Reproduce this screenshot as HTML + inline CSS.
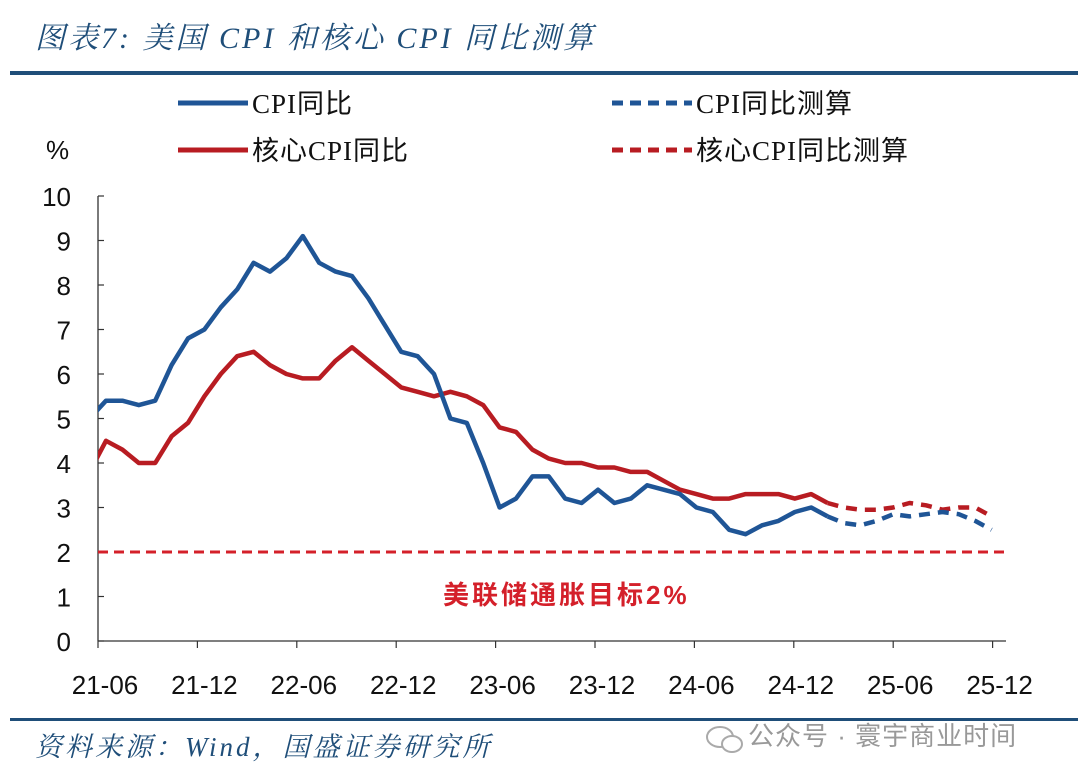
<!DOCTYPE html>
<html><head><meta charset="utf-8"><style>
html,body{margin:0;padding:0;background:#fff;}
body{width:1080px;height:777px;position:relative;overflow:hidden;font-family:"Liberation Sans","Noto Sans CJK SC",sans-serif;}
svg{position:absolute;left:0;top:0;}
</style></head><body>
<svg id="chart" width="1080" height="777">
<text x="35" y="48" font-size="30" font-style="italic" fill="#1f4e79" letter-spacing="3" font-family="Liberation Serif, Noto Serif CJK SC, serif">图表7:  美国 CPI 和核心 CPI 同比测算</text>
<rect x="10" y="71" width="1068" height="4" fill="#1f4e79"/>
<g font-size="27" fill="#111" font-family="Liberation Serif, Noto Sans CJK SC, serif">
<g><line x1="178" y1="103" x2="248" y2="103" stroke="#1f5596" stroke-width="5"/><text x="252" y="113" letter-spacing="1">CPI同比</text></g>
<g><line x1="178" y1="150" x2="248" y2="150" stroke="#b81c22" stroke-width="5"/><text x="252" y="160" letter-spacing="1">核心CPI同比</text></g>
<g><line x1="612" y1="103" x2="692" y2="103" stroke="#1f5596" stroke-width="5" stroke-dasharray="11,7"/><text x="696" y="113" letter-spacing="1">CPI同比测算</text></g>
<g><line x1="612" y1="150" x2="692" y2="150" stroke="#b81c22" stroke-width="5" stroke-dasharray="11,7"/><text x="696" y="160" letter-spacing="1">核心CPI同比测算</text></g>
</g>
<text x="46" y="159" font-size="26" fill="#111">%</text>
<g id="axes"></g>
<g id="marks"></g>
<text x="443" y="604" font-size="26" font-weight="bold" letter-spacing="3" fill="#d4202a">美联储通胀目标2%</text>
<rect x="10" y="718" width="1068" height="3" fill="#1f4e79"/>
<text x="35" y="756" font-size="27" font-style="italic" letter-spacing="3" fill="#1f4e79" font-family="Liberation Serif, Noto Serif CJK SC, serif">资料来源：Wind，国盛证券研究所</text>
<g>
<ellipse cx="720" cy="737" rx="13" ry="10" fill="none" stroke="#aaa" stroke-width="2"/>
<ellipse cx="732" cy="744" rx="10" ry="8" fill="#fff" stroke="#aaa" stroke-width="2"/>
<text x="748" y="745" font-size="26" fill="#999" letter-spacing="1">公众号 · 寰宇商业时间</text>
</g>
</svg>
<script>
// Months from 2021-05 (index -1) onward; index 0 = 2021-06
const cpiActual=[5.0,5.4,5.4,5.3,5.4,6.2,6.8,7.0,7.5,7.9,8.5,8.3,8.6,9.1,8.5,8.3,8.2,7.7,7.1,6.5,6.4,6.0,5.0,4.9,4.0,3.0,3.2,3.7,3.7,3.2,3.1,3.4,3.1,3.2,3.5,3.4,3.3,3.0,2.9,2.5,2.4,2.6,2.7,2.9,3.0,2.8];
const coreActual=[3.8,4.5,4.3,4.0,4.0,4.6,4.9,5.5,6.0,6.4,6.5,6.2,6.0,5.9,5.9,6.3,6.6,6.3,6.0,5.7,5.6,5.5,5.6,5.5,5.3,4.8,4.7,4.3,4.1,4.0,4.0,3.9,3.9,3.8,3.8,3.6,3.4,3.3,3.2,3.2,3.3,3.3,3.3,3.2,3.3,3.1];
const cpiForecast=[2.65,2.6,2.7,2.85,2.8,2.85,2.9,2.85,2.7,2.5];
const coreForecast=[3.0,2.95,2.95,3.0,3.1,3.05,2.95,3.0,3.0,2.8];
const yTicks=[0,1,2,3,4,5,6,7,8,9,10];
const xTickLabels=["21-06","21-12","22-06","22-12","23-06","23-12","24-06","24-12","25-06","25-12"];
const fedTarget=2;

const NS="http://www.w3.org/2000/svg";
const X0=98, XEND=1006, YB=641, PY=44.5, FIRST=106, MW=16.4;
const xs=i=>FIRST+MW*i; // i month index from 2021-06
const ys=v=>YB-v*PY;
function mk(tag,attrs,parent){const e=document.createElementNS(NS,tag);for(const k in attrs)e.setAttribute(k,attrs[k]);parent.appendChild(e);return e;}
const axes=document.getElementById('axes'), marks=document.getElementById('marks');
const defs=mk('defs',{},axes);
const cp=mk('clipPath',{id:'plotclip'},defs);
mk('rect',{x:X0,y:150,width:XEND-X0,height:500},cp);

let yl=mk('line',{x1:X0,y1:ys(10),x2:X0,y2:YB,stroke:'#333','stroke-width':1.3},axes);


let xl=mk('line',{x1:X0,y1:YB,x2:XEND,y2:YB,stroke:'#333','stroke-width':1.3},axes);


yTicks.forEach(v=>{
  mk('line',{x1:X0,y1:ys(v),x2:X0+6,y2:ys(v),stroke:'#333','stroke-width':1.2},axes);
  const t=mk('text',{x:71,y:ys(v)+10,'font-size':26,'text-anchor':'end',fill:'#111'},axes);
  t.textContent=v;
  
  
});
xTickLabels.forEach((lab,k)=>{
  const x=105+k*99.4;
  mk('line',{x1:x-7,y1:YB,x2:x-7,y2:YB+7,stroke:'#333','stroke-width':1.2},axes);
  const t=mk('text',{x:x,y:694,'font-size':26,'text-anchor':'middle',fill:'#111'},axes);
  t.textContent=lab;
  
  
});
let tl=mk('line',{x1:X0,y1:ys(fedTarget),x2:XEND,y2:ys(fedTarget),stroke:'#d4202a','stroke-width':3,'stroke-dasharray':'10,6'},marks);



function pts(arr,start){return arr.map((v,i)=>xs(start+i).toFixed(1)+','+ys(v).toFixed(1)).join(' ');}
const lastA=cpiActual.length-2; // index of last actual month
function series(arr,start,color,dash,name){
  const p=mk('polyline',{points:pts(arr,start),fill:'none',stroke:color,'stroke-width':4.5,'stroke-linejoin':'round','clip-path':'url(#plotclip)'},marks);
  if(dash)p.setAttribute('stroke-dasharray','11,8');
  
  
}
series(coreActual,-1,'#b81c22',false,'core-cpi-line');
series(cpiActual,-1,'#1f5596',false,'cpi-line');
series([coreActual[coreActual.length-1]].concat(coreForecast),lastA,'#b81c22',true,'core-cpi-forecast-line');
series([cpiActual[cpiActual.length-1]].concat(cpiForecast),lastA,'#1f5596',true,'cpi-forecast-line');
</script>
</body></html>
